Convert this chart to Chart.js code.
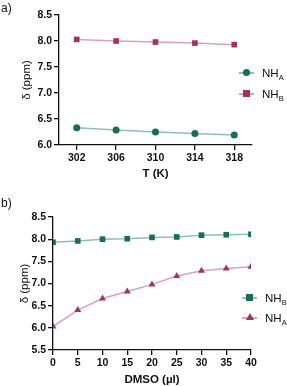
<!DOCTYPE html>
<html>
<head>
<meta charset="utf-8">
<script src="https://cdn.jsdelivr.net/npm/chart.js@4"></script>
<style>
  body { margin: 0; width: 287px; height: 386px; background: #fff; position: relative; overflow: hidden;
         font-family: "Liberation Sans", Arial, sans-serif; }
  .panel { position: absolute; left: 0; width: 287px; }
  .tag { position: absolute; left: 1px; font-size: 12px; color: #111; }
  .item { position: absolute; white-space: nowrap; height: 14px; font-size: 11.5px; color: #111; }
  .item .ln { position: absolute; left: 0; top: 7px; width: 15px; height: 1.5px; }
  .item .mk { position: absolute; }
  .item .tx { position: absolute; left: 23px; top: 1px; line-height: 14px; }
  .item sub { font-size: 7.5px; vertical-align: -3px; }
</style>
</head>
<body>
<div class="panel" style="top:0;height:190px"><canvas id="chartA" width="287" height="190"></canvas></div>
<div class="panel" style="top:190px;height:196px"><canvas id="chartB" width="287" height="196"></canvas></div>
<div class="tag" style="top:1px">a)</div>
<div class="tag" style="top:196px">b)</div>

<div class="item" style="left:239px;top:65px">
  <div class="ln" style="background:#8fc1b1"></div>
  <div class="mk" style="left:4px;top:3.5px;width:7px;height:7px;border-radius:50%;background:#12705a"></div>
  <div class="tx">NH<sub>A</sub></div>
</div>
<div class="item" style="left:239px;top:86px">
  <div class="ln" style="background:#dba2bd"></div>
  <div class="mk" style="left:4px;top:3.5px;width:7px;height:7px;background:#a3325f"></div>
  <div class="tx">NH<sub>B</sub></div>
</div>

<div class="item" style="left:242px;top:290px">
  <div class="ln" style="background:#8fc1b1"></div>
  <div class="mk" style="left:4px;top:3.5px;width:7px;height:7px;background:#12705a"></div>
  <div class="tx">NH<sub>B</sub></div>
</div>
<div class="item" style="left:242px;top:310px">
  <div class="ln" style="background:#dba2bd"></div>
  <div class="mk" style="left:3.5px;top:3px;width:0;height:0;border-left:4px solid transparent;border-right:4px solid transparent;border-bottom:7px solid #a3325f"></div>
  <div class="tx">NH<sub>A</sub></div>
</div>

<script>
// panel a: temperature series
const tempK = [302, 306, 310, 314, 318];
const nhA_temp = [6.33, 6.29, 6.25, 6.22, 6.19];
const nhB_temp = [8.03, 8.00, 7.98, 7.96, 7.93];

// panel b: DMSO titration
const dmso = [0, 5, 10, 15, 20, 25, 30, 35, 40];
const nhB_dmso = [7.93, 7.96, 8.00, 8.01, 8.04, 8.05, 8.09, 8.10, 8.11];
const nhA_dmso = [6.03, 6.40, 6.66, 6.82, 6.98, 7.17, 7.29, 7.34, 7.38];

const green = "#12705a", greenLine = "#8fc1b1";
const pink = "#a3325f", pinkLine = "#dba2bd";

Chart.defaults.font.family = '"Liberation Sans", Arial, sans-serif';
Chart.defaults.color = "#111";

const pts = (xs, ys) => xs.map((x, i) => ({ x: x, y: ys[i] }));

function axisCommon() {
  return {
    type: "linear",
    grid: { display: true, drawOnChartArea: false, drawTicks: true, tickLength: 5, color: "#111", lineWidth: 1.3 },
    border: { display: true, color: "#111", width: 1.3 },
    ticks: { color: "#111", font: { size: 10.5, weight: "bold" }, padding: 2 },
  };
}

function makeChart(id, datasets, xOpts, yOpts, pad, yW, xH) {
  const x = Object.assign(axisCommon(), xOpts);
  const y = Object.assign(axisCommon(), yOpts);
  x.afterFit = (s) => { s.height = xH; };
  y.afterFit = (s) => { s.width = yW; };
  return new Chart(document.getElementById(id), {
    type: "line",
    data: { datasets: datasets },
    options: {
      responsive: false,
      animation: false,
      layout: { padding: pad },
      plugins: { legend: { display: false }, tooltip: { enabled: false } },
      scales: { x: x, y: y },
    },
  });
}

function series(label, data, line, fill, style, r) {
  return {
    label: label, data: data,
    borderColor: line, borderWidth: 1.5,
    pointStyle: style, pointRadius: r,
    pointBackgroundColor: fill, pointBorderColor: fill, pointBorderWidth: 0,
  };
}

makeChart("chartA",
  [
    series("NHA", pts(tempK, nhA_temp), greenLine, green, "circle", 3.5),
    series("NHB", pts(tempK, nhB_temp), pinkLine, pink, "rect", 4),
  ],
  {
    min: 300.2, max: 319.8,
    afterBuildTicks: (s) => { s.ticks = tempK.map((v) => ({ value: v })); },
    title: { display: true, text: "T (K)", font: { size: 11.5, weight: "bold" }, padding: { top: 1, bottom: 0 } },
  },
  {
    min: 6.0, max: 8.5,
    ticks: { stepSize: 0.5, font: { size: 10.5, weight: "bold" }, padding: 2, color: "#111", callback: (v) => v.toFixed(1) },
    title: { display: true, text: "δ (ppm)", font: { size: 11.5 }, padding: { top: 0, bottom: 0 } },
  },
  { left: 20, top: 15, right: 35, bottom: 9 }, 39, 36
);

makeChart("chartB",
  [
    series("NHB", pts(dmso, nhB_dmso), greenLine, green, "rect", 4),
    series("NHA", pts(dmso, nhA_dmso), pinkLine, pink, "triangle", 4),
  ],
  {
    min: 0, max: 40,
    ticks: { stepSize: 5, font: { size: 10.5, weight: "bold" }, padding: 2, color: "#111" },
    title: { display: true, text: "DMSO (µl)", font: { size: 11.5, weight: "bold" }, padding: { top: 1, bottom: -1 } },
  },
  {
    min: 5.5, max: 8.5,
    ticks: { stepSize: 0.5, font: { size: 10.5, weight: "bold" }, padding: 2, color: "#111", callback: (v) => v.toFixed(1) },
    title: { display: true, text: "δ (ppm)", font: { size: 11.5 }, padding: { top: 0, bottom: 0 } },
  },
  { left: 18, top: 27, right: 36, bottom: 0 }, 35, 36
);
</script>
</body>
</html>
